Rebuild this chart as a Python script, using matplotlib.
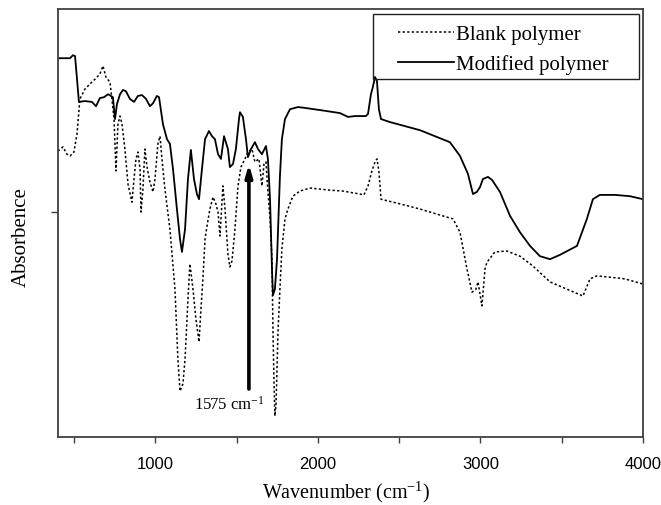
import matplotlib
matplotlib.use('Agg')
import matplotlib.pyplot as plt
from matplotlib.ticker import MultipleLocator
from matplotlib.patches import Rectangle

plt.rcParams['mathtext.fontset'] = 'custom'
plt.rcParams['mathtext.rm'] = 'Liberation Serif'
plt.rcParams['mathtext.it'] = 'Liberation Serif:italic'

# Modified polymer (solid line)
mod_wn = [400, 474, 492, 505, 517, 529, 566, 609, 634, 658, 683, 708, 726, 738, 751, 763,
          782, 800, 818, 843, 868, 892, 917, 942, 966, 985, 1009, 1022, 1046, 1071, 1089,
          1108, 1132, 1151, 1163, 1182, 1200, 1218, 1237, 1255, 1268, 1286, 1305, 1329,
          1348, 1366, 1385, 1403, 1422, 1446, 1458, 1477, 1495, 1514, 1520, 1538, 1557,
          1569, 1588, 1612, 1631, 1655, 1680, 1692, 1705, 1717, 1723, 1735, 1748, 1766,
          1778, 1797, 1828, 1877, 1920, 2012, 2135, 2185, 2228, 2295, 2308, 2326, 2338,
          2351, 2363, 2375, 2388, 2443, 2628, 2812, 2874, 2923, 2954, 2978, 2997, 3015,
          3046, 3071, 3120, 3182, 3243, 3305, 3366, 3428, 3489, 3594, 3655, 3692, 3735,
          3828, 3920, 4000]
mod_abs = [0.884, 0.884, 0.891, 0.889, 0.836, 0.782, 0.784, 0.782, 0.772, 0.791, 0.793,
           0.800, 0.796, 0.793, 0.742, 0.777, 0.800, 0.810, 0.807, 0.789, 0.782, 0.796,
           0.798, 0.789, 0.772, 0.779, 0.796, 0.793, 0.730, 0.695, 0.684, 0.625, 0.532,
           0.462, 0.432, 0.485, 0.602, 0.670, 0.602, 0.567, 0.555, 0.625, 0.695, 0.714,
           0.702, 0.695, 0.660, 0.649, 0.702, 0.672, 0.630, 0.637, 0.672, 0.742, 0.758,
           0.747, 0.695, 0.653, 0.672, 0.688, 0.672, 0.660, 0.679, 0.649, 0.555, 0.392,
           0.331, 0.345, 0.415, 0.609, 0.695, 0.742, 0.765, 0.770, 0.768, 0.763, 0.756,
           0.747, 0.749, 0.749, 0.754, 0.800, 0.817, 0.840, 0.831, 0.765, 0.742, 0.735,
           0.716, 0.688, 0.656, 0.614, 0.567, 0.572, 0.583, 0.602, 0.607, 0.600, 0.572,
           0.516, 0.478, 0.446, 0.422, 0.415, 0.425, 0.446, 0.509, 0.555, 0.565, 0.565,
           0.562, 0.555]

# Blank polymer (dotted line)
blank_wn = [400, 431, 455, 474, 498, 517, 535, 566, 597, 628, 658, 677, 695, 720, 732, 745,
            757, 769, 782, 794, 812, 831, 855, 868, 880, 892, 905, 911, 923, 935, 948, 966,
            985, 997, 1015, 1028, 1040, 1058, 1089, 1120, 1138, 1151, 1169, 1182, 1200,
            1212, 1231, 1249, 1268, 1280, 1292, 1305, 1317, 1335, 1354, 1372, 1385, 1397,
            1415, 1428, 1446, 1458, 1471, 1489, 1508, 1526, 1551, 1569, 1594, 1612, 1637,
            1655, 1668, 1680, 1692, 1705, 1717, 1723, 1729, 1735, 1742, 1754, 1766, 1778,
            1797, 1815, 1846, 1889, 1951, 2074, 2154, 2258, 2283, 2308, 2332, 2351, 2363,
            2375, 2388, 2505, 2628, 2751, 2831, 2874, 2917, 2948, 2972, 2985, 3009, 3028,
            3040, 3089, 3163, 3243, 3323, 3428, 3532, 3631, 3674, 3717, 3797, 3889, 4000]
blank_abs = [0.667, 0.677, 0.660, 0.656, 0.665, 0.707, 0.789, 0.812, 0.824, 0.835, 0.847,
             0.866, 0.840, 0.828, 0.789, 0.742, 0.621, 0.730, 0.749, 0.730, 0.672, 0.590,
             0.548, 0.602, 0.649, 0.665, 0.625, 0.525, 0.579, 0.672, 0.630, 0.595, 0.572,
             0.602, 0.684, 0.702, 0.649, 0.579, 0.485, 0.345, 0.182, 0.107, 0.124, 0.182,
             0.322, 0.404, 0.345, 0.275, 0.222, 0.299, 0.369, 0.462, 0.492, 0.532, 0.560,
             0.544, 0.525, 0.469, 0.586, 0.532, 0.427, 0.397, 0.411, 0.485, 0.586, 0.630,
             0.649, 0.665, 0.672, 0.642, 0.649, 0.586, 0.637, 0.642, 0.572, 0.509, 0.415,
             0.252, 0.135, 0.049, 0.077, 0.245, 0.345, 0.439, 0.509, 0.532, 0.562, 0.574,
             0.581, 0.576, 0.574, 0.567, 0.565, 0.586, 0.621, 0.642, 0.649, 0.621, 0.555,
             0.544, 0.532, 0.518, 0.509, 0.478, 0.392, 0.338, 0.345, 0.362, 0.306, 0.392,
             0.408, 0.432, 0.434, 0.422, 0.399, 0.362, 0.345, 0.329, 0.369, 0.376, 0.373,
             0.369, 0.357]

peak_wn = 1575
peak_label = '1575 cm$^{-1}$'

serif = 'Liberation Serif'
sans = 'Liberation Sans'

fig = plt.figure(figsize=(6.61, 5.06), dpi=100)
ax = fig.add_axes([0.0877, 0.1344, 0.885, 0.8468])

ax.plot(blank_wn, blank_abs, color='black', lw=1.1, linestyle=(0, (1.5, 1.5)),
        label='Blank polymer')
ax.plot(mod_wn, mod_abs, color='black', lw=1.3, label='Modified polymer')

# arrow marking the 1575 band
ax.annotate('', xy=(peak_wn, 0.637), xytext=(peak_wn, 0.112),
            arrowprops=dict(arrowstyle='-|>,head_length=0.7,head_width=0.2',
                            lw=2.6, color='black', shrinkA=0, shrinkB=0))
ax.text(1452, 0.077, peak_label, family=serif, fontsize=12, ha='center', va='center')

ax.set_xlim(400, 4000)
ax.set_ylim(0, 1)
ax.xaxis.set_major_locator(MultipleLocator(1000))
ax.xaxis.set_minor_locator(MultipleLocator(500))
ax.set_yticks([0.525])
ax.set_yticklabels([])
ax.tick_params(axis='x', which='both', direction='out', length=4.5, width=1,
               color='#404040', pad=9, labelsize=12)
ax.tick_params(axis='y', direction='out', length=5, width=1, color='#404040')
for lab in ax.get_xticklabels():
    lab.set_family(sans)

for sp in ax.spines.values():
    sp.set_color('#404040')
    sp.set_linewidth(1.3)

ax.set_xlabel('Wavenumber (cm$^{-1}$)', family=serif, fontsize=14.5)
ax.set_ylabel('Absorbence', family=serif, fontsize=15)
ax.xaxis.set_label_coords(0.492, -0.098)
ax.yaxis.set_label_coords(-0.046, 0.469)

# legend: text and handles, with a separate wide box around them
leg = ax.legend(loc='upper left', bbox_to_anchor=(0.581, 0.963),
                prop={'family': serif, 'size': 15}, frameon=False,
                handlelength=2.7, borderpad=0, labelspacing=0.48,
                handletextpad=0.1, borderaxespad=0)
ax.add_patch(Rectangle((0.538, 0.835), 0.455, 0.152, transform=ax.transAxes,
                       fill=False, edgecolor='#202020', lw=1.0, zorder=5))

fig.savefig('out.png', dpi=100)
